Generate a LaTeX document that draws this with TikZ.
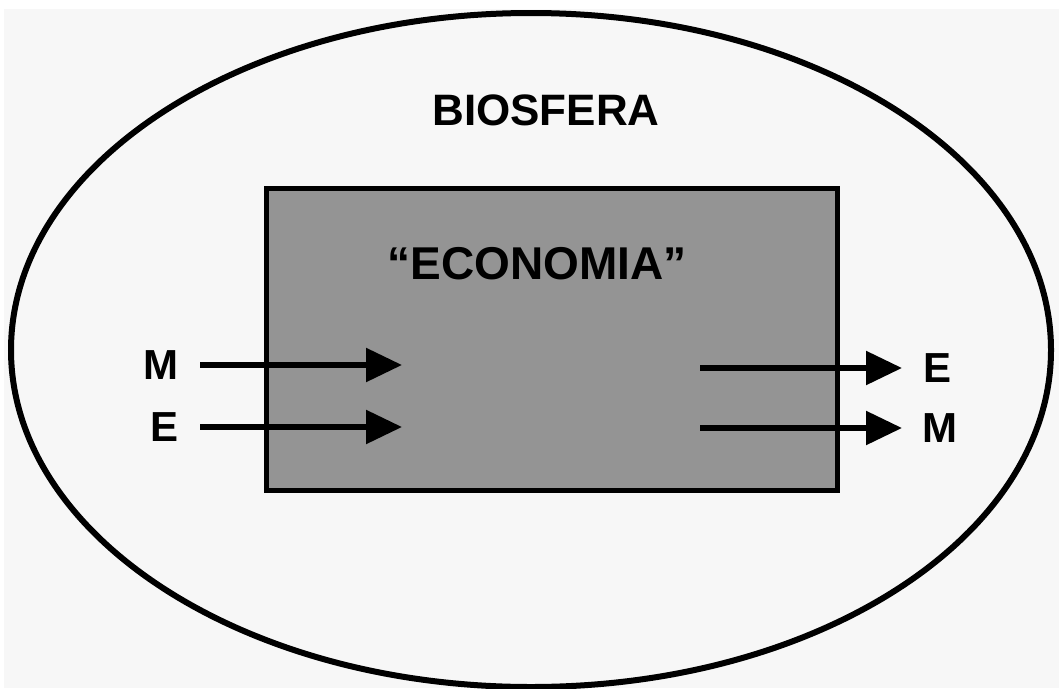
\documentclass[tikz,border=0pt]{standalone}
\usepackage{fontspec}
\setmainfont{Liberation Sans}
\usetikzlibrary{arrows.meta}
\tikzset{
  bigtxt/.style={font=\fontsize{42}{48}\selectfont\bfseries, inner sep=0pt},
  flowarrow/.style={line width=5.5pt, -{Triangle[length=36pt,width=33pt]}},
  econbox/.style={draw=black, line width=4.5pt, fill=black!42},
}
\begin{document}
\begin{tikzpicture}[x=1pt,y=-1pt]
\useasboundingbox (0,0) rectangle (1059,688);
\fill[white] (0,0) rectangle (1059,688);
\fill[black!3] (4,9) rectangle (1059,688);
% biosphere
\draw[line width=6pt] (531,350) ellipse [x radius=520, y radius=337];
\node[bigtxt, font=\fontsize{44}{50}\selectfont\bfseries] (bio) at (546,110) {BIOSFERA};
% economy box
\node[econbox, minimum width=571pt, minimum height=302pt, inner sep=0pt, anchor=north west] (eco) at (264,186) {};
\node[bigtxt, font=\fontsize{46}{52}\selectfont\bfseries] (ecot) at (537,264) {\char"201C ECONOMIA\char"201D};
% inputs
\node[bigtxt] (mi) at (161,365) {M};
\node[bigtxt] (ei) at (165,427) {E};
\coordinate (mis) at (200,365);
\coordinate (mie) at (402,365);
\coordinate (eis) at (200,427);
\coordinate (eie) at (402,427);
\draw[flowarrow] (mis) -- (mie);
\draw[flowarrow] (eis) -- (eie);
% outputs
\node[bigtxt] (eo) at (937,368) {E};
\node[bigtxt] (mo) at (940,428) {M};
\coordinate (eos) at (700,368);
\coordinate (eoe) at (902,368);
\coordinate (mos) at (700,428);
\coordinate (moe) at (902,428);
\draw[flowarrow] (eos) -- (eoe);
\draw[flowarrow] (mos) -- (moe);
\end{tikzpicture}
\end{document}
